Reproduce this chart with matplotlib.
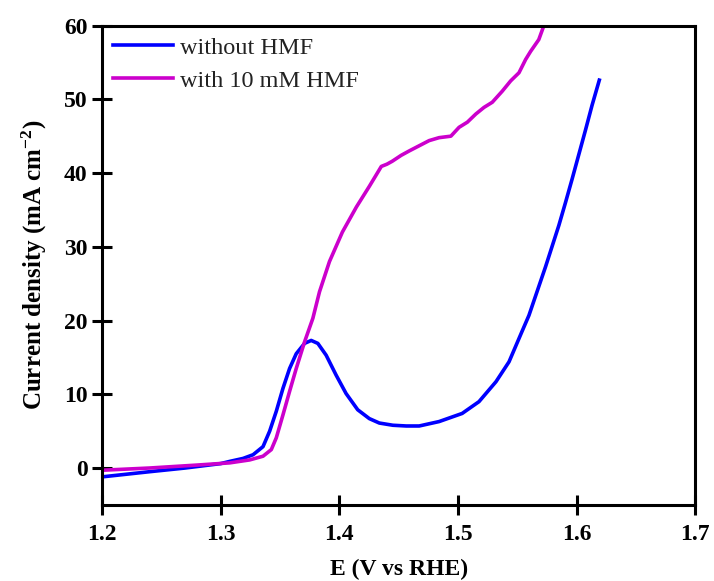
import matplotlib
matplotlib.use("Agg")
import matplotlib.pyplot as plt

# Polarization curves (E vs RHE in V, current density in mA cm^-2)
e_without = [1.200, 1.240, 1.270, 1.300, 1.3076, 1.3188, 1.3272, 1.3356, 1.3412, 1.3468,
             1.3524, 1.3580, 1.3636, 1.3706, 1.3762, 1.3818, 1.3888, 1.3972, 1.4056, 1.4154,
             1.4252, 1.4336, 1.4450, 1.4563, 1.4672, 1.4840, 1.5034, 1.5176, 1.5319, 1.5429,
             1.5538, 1.5597, 1.5667, 1.5737, 1.5793, 1.5849, 1.5905, 1.5961, 1.6017, 1.6073,
             1.6129, 1.6190]
j_without = [-1.2, -0.5, 0.0, 0.6, 0.9, 1.3, 1.8, 2.9, 5.0, 7.7,
             10.8, 13.5, 15.5, 16.9, 17.3, 16.9, 15.3, 12.6, 10.1, 7.9,
             6.7, 6.1, 5.8, 5.7, 5.7, 6.3, 7.4, 9.0, 11.7, 14.4,
             18.5, 20.7, 24.0, 27.3, 30.1, 32.9, 36.0, 39.2, 42.5, 45.8,
             49.2, 52.6]

e_with = [1.200, 1.240, 1.280, 1.3076, 1.3244, 1.3356, 1.3426, 1.3468, 1.3524, 1.3580,
          1.3636, 1.3706, 1.3776, 1.3832, 1.3916, 1.4025, 1.4143, 1.4252, 1.4353, 1.4400,
          1.4445, 1.4520, 1.4588, 1.4672, 1.4756, 1.4840, 1.4939, 1.5008, 1.5078, 1.5149,
          1.5218, 1.5288, 1.5372, 1.5443, 1.5513, 1.5569, 1.5611, 1.5680, 1.5723]
j_with = [-0.3, 0.0, 0.4, 0.7, 1.1, 1.6, 2.5, 4.1, 7.2, 10.4,
          13.5, 17.1, 20.3, 23.9, 28.0, 32.0, 35.4, 38.2, 40.9, 41.2,
          41.6, 42.4, 43.0, 43.7, 44.4, 44.8, 45.0, 46.2, 46.9, 48.0,
          48.9, 49.6, 51.1, 52.5, 53.6, 55.4, 56.5, 58.1, 60.0]

labels = ["without HMF", "with 10 mM HMF"]
colors = ["#0000ff", "#cc00cc"]

plt.rcParams["font.family"] = ["Liberation Serif", "DejaVu Serif"]
plt.rcParams["mathtext.fontset"] = "custom"
plt.rcParams["mathtext.rm"] = "Liberation Serif:bold"
plt.rcParams["mathtext.it"] = "Liberation Serif:bold"
plt.rcParams["mathtext.bf"] = "Liberation Serif:bold"

fig = plt.figure(figsize=(7.14, 5.81), dpi=100)
ax = fig.add_axes([0.143, 0.131, 0.831, 0.825])

ax.plot(e_without, j_without, color=colors[0], lw=2.6, label=labels[0],
        solid_joinstyle="round")
ax.plot(e_with, j_with, color=colors[1], lw=2.6, label=labels[1],
        solid_joinstyle="round")

ax.set_xlim(1.2, 1.7)
ax.set_ylim(-5, 60)
ax.set_xticks([1.2, 1.3, 1.4, 1.5, 1.6, 1.7])
ax.set_yticks([0, 10, 20, 30, 40, 50, 60])

for s in ax.spines.values():
    s.set_linewidth(2.2)
ax.tick_params(direction="inout", length=15, width=2.2, labelsize=17)
ax.tick_params(axis="x", pad=6)
ax.tick_params(axis="y", pad=3)
for t in ax.get_xticklabels() + ax.get_yticklabels():
    t.set_fontweight("bold")

ax.set_xlabel("E (V vs RHE)", fontsize=17, fontweight="bold", labelpad=10)
ax.set_ylabel("Current density (mA cm$^{-2}$)", fontsize=18, fontweight="bold", labelpad=11)

leg = ax.legend(loc="upper left", bbox_to_anchor=(0.0, 1.0), frameon=False,
                fontsize=17.5, handlelength=2.47, handletextpad=0.29,
                labelspacing=0.47, borderaxespad=0.05)
for line in leg.get_lines():
    line.set_linewidth(2.6)
for t in leg.get_texts():
    t.set_color("#222222")

fig.savefig("out.png", dpi=100)
